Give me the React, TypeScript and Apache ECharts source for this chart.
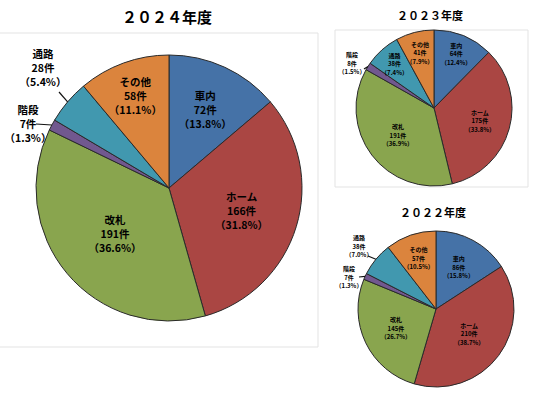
import React, { useEffect, useRef } from "react";
import * as echarts from "echarts";

const categories = ["車内", "ホーム", "改札", "階段", "通路", "その他"];
const colors = ["#4572A7", "#AA4643", "#89A54E", "#71588F", "#4198AF", "#DB843D"];

const counts2024 = [72, 166, 191, 7, 28, 58];
const pct2024 = ["13.8", "31.8", "36.6", "1.3", "5.4", "11.1"];
const counts2023 = [64, 175, 191, 8, 38, 41];
const pct2023 = ["12.4", "33.8", "36.9", "1.5", "7.4", "7.9"];
const counts2022 = [86, 210, 145, 7, 38, 57];
const pct2022 = ["15.8", "38.7", "26.7", "1.3", "7.0", "10.5"];

const titles = ["２０２４年度", "２０２３年度", "２０２２年度"];

const FONT = '"Noto Sans CJK JP", "Noto Sans", sans-serif';

type Outside = Record<number, [number, number, number, number]>;

function midAngles(counts: number[]) {
  const total = counts.reduce((a, b) => a + b, 0);
  const mids: number[] = [];
  let cum = 0;
  counts.forEach((c) => {
    mids.push(((cum + c / 2) / total) * Math.PI * 2);
    cum += c;
  });
  return mids;
}

// leader lines from slice edge (computed from data) to the outside label
function leaders(counts: number[], center: [number, number], radius: number, outside: Outside) {
  const mids = midAngles(counts);
  const res: any[] = [];
  for (const key of Object.keys(outside)) {
    const i = Number(key);
    const o = outside[i];
    const ex = center[0] + radius * Math.sin(mids[i]);
    const ey = center[1] - radius * Math.cos(mids[i]);
    res.push({
      type: "polyline",
      silent: true,
      z: 100,
      shape: { points: [[ex, ey], [o[2], o[3]]] },
      style: { stroke: "#111111", lineWidth: 1.2, fill: null },
    });
  }
  return res;
}

function makeSeries(
  counts: number[],
  pcts: string[],
  center: [number, number],
  radius: number,
  fs: number,
  lh: number,
  insideFactor: Record<number, number>,
  outside: Outside
) {
  const mids = midAngles(counts);
  return {
    type: "pie",
    center,
    radius,
    startAngle: 90,
    clockwise: true,
    avoidLabelOverlap: false,
    silent: true,
    z: 1,
    data: categories.map((name, i) => ({
      name,
      value: counts[i],
      itemStyle: { color: colors[i] },
    })),
    itemStyle: { borderColor: "#2a2a2a", borderWidth: 1 },
    label: {
      show: true,
      position: "inside",
      formatter: (p: any) => `${p.name}\n${counts[p.dataIndex]}件\n（${pcts[p.dataIndex]}%）`,
      fontSize: fs,
      lineHeight: lh,
      color: "#000",
      fontWeight: "bold",
      fontFamily: FONT,
      align: "center",
    },
    labelLine: { show: false },
    labelLayout: (params: any) => {
      const i = params.dataIndex;
      const o = outside[i];
      if (o) return { x: o[0], y: o[1], align: "center", verticalAlign: "middle" };
      const k = insideFactor[i];
      if (k != null) {
        return {
          x: center[0] + k * radius * Math.sin(mids[i]),
          y: center[1] - k * radius * Math.cos(mids[i]),
          align: "center",
          verticalAlign: "middle",
        };
      }
      return {};
    },
  };
}

const C2024: [number, number] = [169, 188];
const C2023: [number, number] = [434, 108];
const C2022: [number, number] = [436, 309];
const out2024: Outside = { 3: [28, 123, 36, 124], 4: [43, 67, 59, 92] };
const out2023: Outside = { 3: [352, 63, 364, 69] };
const out2022: Outside = { 3: [349, 277, 359, 277], 4: [359, 246, 368, 256] };

export default function App() {
  const ref = useRef<HTMLDivElement>(null);
  useEffect(() => {
    const chart = echarts.init(ref.current!, null, { renderer: "svg" });
    const lineEls = [
      ...leaders(counts2024, C2024, 133, out2024),
      ...leaders(counts2023, C2023, 78, out2023),
      ...leaders(counts2022, C2022, 78, out2022),
    ];
    chart.setOption({
      animation: false,
      backgroundColor: "#fff",
      series: [
        makeSeries(counts2024, pct2024, C2024, 133, 10.5, 14,
          { 0: 0.65, 1: 0.57, 2: 0.53, 5: 0.74 }, out2024),
        makeSeries(counts2023, pct2023, C2023, 78, 6, 8.5,
          { 0: 0.75, 1: 0.61, 2: 0.58, 4: 0.76, 5: 0.73 }, out2023),
        makeSeries(counts2022, pct2022, C2022, 78, 6, 8.5,
          { 0: 0.61, 1: 0.53, 2: 0.57, 5: 0.69 }, out2022),
      ],
      graphic: [
        { type: "rect", z: 0, shape: { x: -2, y: 33, width: 320, height: 314 }, style: { fill: null, stroke: "#e3e3e3", lineWidth: 1 }, silent: true },
        { type: "rect", z: 0, shape: { x: 335, y: 30, width: 193, height: 157 }, style: { fill: null, stroke: "#e3e3e3", lineWidth: 1 }, silent: true },
        { type: "text", x: 167, y: 16, style: { text: titles[0], fontSize: 15, fontWeight: "bold", fontFamily: FONT, fill: "#000", align: "center", verticalAlign: "middle" } },
        { type: "text", x: 430, y: 15, style: { text: titles[1], fontSize: 11, fontWeight: "bold", fontFamily: FONT, fill: "#000", align: "center", verticalAlign: "middle" } },
        { type: "text", x: 433, y: 212, style: { text: titles[2], fontSize: 11, fontWeight: "bold", fontFamily: FONT, fill: "#000", align: "center", verticalAlign: "middle" } },
        ...lineEls,
      ],
    });
    return () => chart.dispose();
  }, []);
  return (
    <div
      ref={ref}
      style={{ position: "absolute", left: 0, top: 0, width: 536, height: 394, background: "#fff" }}
    />
  );
}
